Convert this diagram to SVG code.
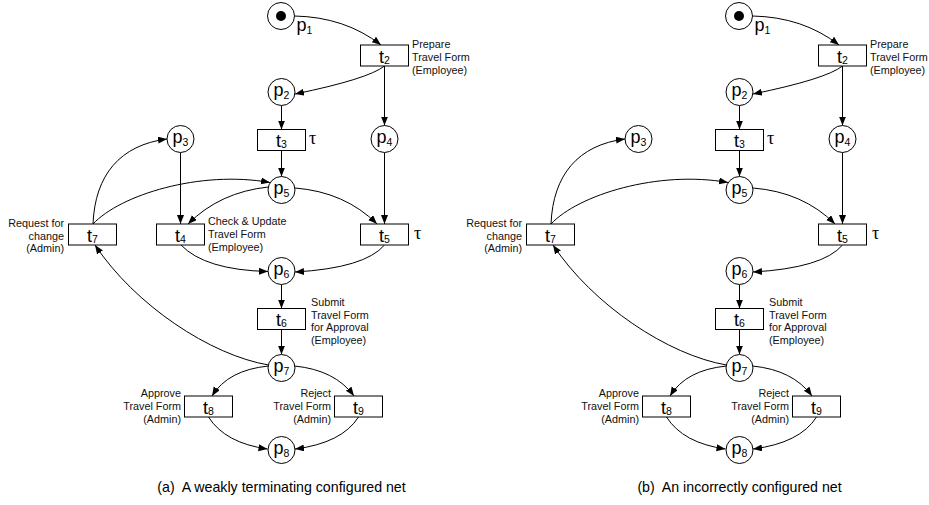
<svg xmlns="http://www.w3.org/2000/svg" width="929" height="505" viewBox="0 0 929 505">
<defs>
<style>
.pl{fill:#fff;stroke:#000;stroke-width:1}
.tok{fill:#000;stroke:none}
.tr{fill:#fff;stroke:#000;stroke-width:1}
.nm{font-family:"Liberation Sans",Arial,sans-serif;font-size:18px;text-anchor:middle;fill:#000}
.nm0{font-family:"Liberation Sans",Arial,sans-serif;font-size:18px;fill:#000}
.sb{font-size:10.5px}
.note{font-family:"Liberation Sans",Arial,sans-serif;font-size:10.8px;fill:#111}
.r{text-anchor:end}
.tau{font-family:"Liberation Serif","DejaVu Serif",serif;font-size:18px;fill:#000}
.cap{font-family:"Liberation Sans",Arial,sans-serif;font-size:14.2px;text-anchor:middle;fill:#000;white-space:pre}
.arc{fill:none;stroke:#000;stroke-width:1;marker-end:url(#ah)}
</style>
<marker id="ah" markerUnits="userSpaceOnUse" markerWidth="10" markerHeight="8" refX="9" refY="3.5" orient="auto">
<path d="M0,0 L9,3.5 L0,7 z" fill="#000"/>
</marker>
</defs>
<rect width="929" height="505" fill="#fff"/>

<!-- Net (a) -->
<g id="netA">
<g id="a-connectors">
<path class="arc" d="M294.5,16 Q345,17 381,45"/>
<path class="arc" d="M384.5,66 Q368,79 295,94"/>
<path class="arc" d="M384.5,66 L384.5,125.5"/>
<path class="arc" d="M281.5,105.5 L281.5,129.5"/>
<path class="arc" d="M281.5,150.5 L281.5,176.5"/>
<path class="arc" d="M384.5,152.5 L384.5,224"/>
<path class="arc" d="M180.5,152.5 L180.5,224"/>
<path class="arc" d="M268.5,187 Q220,192 188,224"/>
<path class="arc" d="M295,188 Q345,192 377,224"/>
<path class="arc" d="M181,245 Q205,270 268,271.5"/>
<path class="arc" d="M384.5,245 Q365,268 295,272"/>
<path class="arc" d="M281.5,284.5 L281.5,308.5"/>
<path class="arc" d="M281.5,329.5 L281.5,354.5"/>
<path class="arc" d="M268.5,365 C210,355 135,305 95,245"/>
<path class="arc" d="M93,224 C95,175 120,145 167,139"/>
<path class="arc" d="M93,224 C120,195 200,170 270,182.5"/>
<path class="arc" d="M268.5,366 Q228,370 212,396"/>
<path class="arc" d="M294.5,366 Q335,370 354,396"/>
<path class="arc" d="M208.5,417 Q225,443 267.5,449"/>
<path class="arc" d="M358.5,417 Q342,443 295,449"/>
</g>
<g id="a-p1"><circle class="pl" cx="281" cy="16" r="13.5"/><circle class="tok" cx="281" cy="16" r="5"/><text class="nm0" x="296.5" y="31">p<tspan class="sb" dy="3">1</tspan></text></g>
<g id="a-t2"><rect class="tr" x="360.5" y="45" width="48" height="21"/><text class="nm" x="384.5" y="62.5">t<tspan class="sb" dy="1">2</tspan></text>
<text class="note" x="412" y="48">Prepare</text><text class="note" x="412" y="61">Travel Form</text><text class="note" x="412" y="74">(Employee)</text></g>
<g id="a-p2"><circle class="pl" cx="281.5" cy="92" r="13.5"/><text class="nm" x="281.5" y="95.5">p<tspan class="sb" dy="3.5">2</tspan></text></g>
<g id="a-t3"><rect class="tr" x="257.5" y="129.5" width="48" height="21"/><text class="nm" x="281.5" y="147">t<tspan class="sb" dy="1">3</tspan></text><text class="tau" x="309" y="144">τ</text></g>
<g id="a-p3"><circle class="pl" cx="180.5" cy="139" r="13.5"/><text class="nm" x="180.5" y="142.5">p<tspan class="sb" dy="3.5">3</tspan></text></g>
<g id="a-p4"><circle class="pl" cx="384.5" cy="139" r="13.5"/><text class="nm" x="384.5" y="142.5">p<tspan class="sb" dy="3.5">4</tspan></text></g>
<g id="a-p5"><circle class="pl" cx="281.5" cy="190" r="13.5"/><text class="nm" x="281.5" y="193.5">p<tspan class="sb" dy="3.5">5</tspan></text></g>
<g id="a-t4"><rect class="tr" x="156.5" y="224" width="48" height="21"/><text class="nm" x="180.5" y="241.5">t<tspan class="sb" dy="1">4</tspan></text>
<text class="note" x="208" y="225">Check &amp; Update</text><text class="note" x="208" y="238">Travel Form</text><text class="note" x="208" y="251">(Employee)</text></g>
<g id="a-t5"><rect class="tr" x="360.5" y="224" width="48" height="21"/><text class="nm" x="384.5" y="241.5">t<tspan class="sb" dy="1">5</tspan></text><text class="tau" x="414" y="238.5">τ</text></g>
<g id="a-t7"><rect class="tr" x="68.5" y="224" width="48" height="21"/><text class="nm" x="92.5" y="241.5">t<tspan class="sb" dy="1">7</tspan></text>
<text class="note r" x="64" y="227">Request for</text><text class="note r" x="64" y="239.5">change</text><text class="note r" x="64" y="252">(Admin)</text></g>
<g id="a-p6"><circle class="pl" cx="281.5" cy="271" r="13.5"/><text class="nm" x="281.5" y="274.5">p<tspan class="sb" dy="3.5">6</tspan></text></g>
<g id="a-t6"><rect class="tr" x="257.5" y="308.5" width="48" height="21"/><text class="nm" x="281.5" y="326">t<tspan class="sb" dy="1">6</tspan></text>
<text class="note" x="311" y="305.5">Submit</text><text class="note" x="311" y="318.5">Travel Form</text><text class="note" x="311" y="331">for Approval</text><text class="note" x="311" y="344">(Employee)</text></g>
<g id="a-p7"><circle class="pl" cx="281.5" cy="368" r="13.5"/><text class="nm" x="281.5" y="371.5">p<tspan class="sb" dy="3.5">7</tspan></text></g>
<g id="a-t8"><rect class="tr" x="184.5" y="396" width="48" height="21"/><text class="nm" x="208.5" y="413.5">t<tspan class="sb" dy="1">8</tspan></text>
<text class="note r" x="181" y="397">Approve</text><text class="note r" x="181" y="410">Travel Form</text><text class="note r" x="181" y="423">(Admin)</text></g>
<g id="a-t9"><rect class="tr" x="334.5" y="396" width="48" height="21"/><text class="nm" x="358.5" y="413.5">t<tspan class="sb" dy="1">9</tspan></text>
<text class="note r" x="331" y="397">Reject</text><text class="note r" x="331" y="410">Travel Form</text><text class="note r" x="331" y="423">(Admin)</text></g>
<g id="a-p8"><circle class="pl" cx="281.5" cy="450" r="13.5"/><text class="nm" x="281.5" y="453.5">p<tspan class="sb" dy="3.5">8</tspan></text></g>
<text class="cap" x="281.5" y="492">(a)  A weakly terminating configured net</text>
</g>

<!-- Net (b) -->
<g id="netB" transform="translate(458,0)">
<g id="b-connectors">
<path class="arc" d="M294.5,16 Q345,17 381,45"/>
<path class="arc" d="M384.5,66 Q368,79 295,94"/>
<path class="arc" d="M384.5,66 L384.5,125.5"/>
<path class="arc" d="M281.5,105.5 L281.5,129.5"/>
<path class="arc" d="M281.5,150.5 L281.5,176.5"/>
<path class="arc" d="M384.5,152.5 L384.5,224"/>
<path class="arc" d="M295,188 Q345,192 377,224"/>
<path class="arc" d="M384.5,245 Q365,268 295,272"/>
<path class="arc" d="M281.5,284.5 L281.5,308.5"/>
<path class="arc" d="M281.5,329.5 L281.5,354.5"/>
<path class="arc" d="M268.5,365 C210,355 135,305 95,245"/>
<path class="arc" d="M93,224 C95,175 120,145 167,139"/>
<path class="arc" d="M93,224 C120,195 200,170 270,182.5"/>
<path class="arc" d="M268.5,366 Q228,370 212,396"/>
<path class="arc" d="M294.5,366 Q335,370 354,396"/>
<path class="arc" d="M208.5,417 Q225,443 267.5,449"/>
<path class="arc" d="M358.5,417 Q342,443 295,449"/>
</g>
<g id="b-p1"><circle class="pl" cx="281" cy="16" r="13.5"/><circle class="tok" cx="281" cy="16" r="5"/><text class="nm0" x="296.5" y="31">p<tspan class="sb" dy="3">1</tspan></text></g>
<g id="b-t2"><rect class="tr" x="360.5" y="45" width="48" height="21"/><text class="nm" x="384.5" y="62.5">t<tspan class="sb" dy="1">2</tspan></text>
<text class="note" x="412" y="48">Prepare</text><text class="note" x="412" y="61">Travel Form</text><text class="note" x="412" y="74">(Employee)</text></g>
<g id="b-p2"><circle class="pl" cx="281.5" cy="92" r="13.5"/><text class="nm" x="281.5" y="95.5">p<tspan class="sb" dy="3.5">2</tspan></text></g>
<g id="b-t3"><rect class="tr" x="257.5" y="129.5" width="48" height="21"/><text class="nm" x="281.5" y="147">t<tspan class="sb" dy="1">3</tspan></text><text class="tau" x="309" y="144">τ</text></g>
<g id="b-p3"><circle class="pl" cx="180.5" cy="139" r="13.5"/><text class="nm" x="180.5" y="142.5">p<tspan class="sb" dy="3.5">3</tspan></text></g>
<g id="b-p4"><circle class="pl" cx="384.5" cy="139" r="13.5"/><text class="nm" x="384.5" y="142.5">p<tspan class="sb" dy="3.5">4</tspan></text></g>
<g id="b-p5"><circle class="pl" cx="281.5" cy="190" r="13.5"/><text class="nm" x="281.5" y="193.5">p<tspan class="sb" dy="3.5">5</tspan></text></g>
<g id="b-t5"><rect class="tr" x="360.5" y="224" width="48" height="21"/><text class="nm" x="384.5" y="241.5">t<tspan class="sb" dy="1">5</tspan></text><text class="tau" x="414" y="238.5">τ</text></g>
<g id="b-t7"><rect class="tr" x="68.5" y="224" width="48" height="21"/><text class="nm" x="92.5" y="241.5">t<tspan class="sb" dy="1">7</tspan></text>
<text class="note r" x="64" y="227">Request for</text><text class="note r" x="64" y="239.5">change</text><text class="note r" x="64" y="252">(Admin)</text></g>
<g id="b-p6"><circle class="pl" cx="281.5" cy="271" r="13.5"/><text class="nm" x="281.5" y="274.5">p<tspan class="sb" dy="3.5">6</tspan></text></g>
<g id="b-t6"><rect class="tr" x="257.5" y="308.5" width="48" height="21"/><text class="nm" x="281.5" y="326">t<tspan class="sb" dy="1">6</tspan></text>
<text class="note" x="311" y="305.5">Submit</text><text class="note" x="311" y="318.5">Travel Form</text><text class="note" x="311" y="331">for Approval</text><text class="note" x="311" y="344">(Employee)</text></g>
<g id="b-p7"><circle class="pl" cx="281.5" cy="368" r="13.5"/><text class="nm" x="281.5" y="371.5">p<tspan class="sb" dy="3.5">7</tspan></text></g>
<g id="b-t8"><rect class="tr" x="184.5" y="396" width="48" height="21"/><text class="nm" x="208.5" y="413.5">t<tspan class="sb" dy="1">8</tspan></text>
<text class="note r" x="181" y="397">Approve</text><text class="note r" x="181" y="410">Travel Form</text><text class="note r" x="181" y="423">(Admin)</text></g>
<g id="b-t9"><rect class="tr" x="334.5" y="396" width="48" height="21"/><text class="nm" x="358.5" y="413.5">t<tspan class="sb" dy="1">9</tspan></text>
<text class="note r" x="331" y="397">Reject</text><text class="note r" x="331" y="410">Travel Form</text><text class="note r" x="331" y="423">(Admin)</text></g>
<g id="b-p8"><circle class="pl" cx="281.5" cy="450" r="13.5"/><text class="nm" x="281.5" y="453.5">p<tspan class="sb" dy="3.5">8</tspan></text></g>
<text class="cap" x="281.5" y="492">(b)  An incorrectly configured net</text>
</g>
</svg>
